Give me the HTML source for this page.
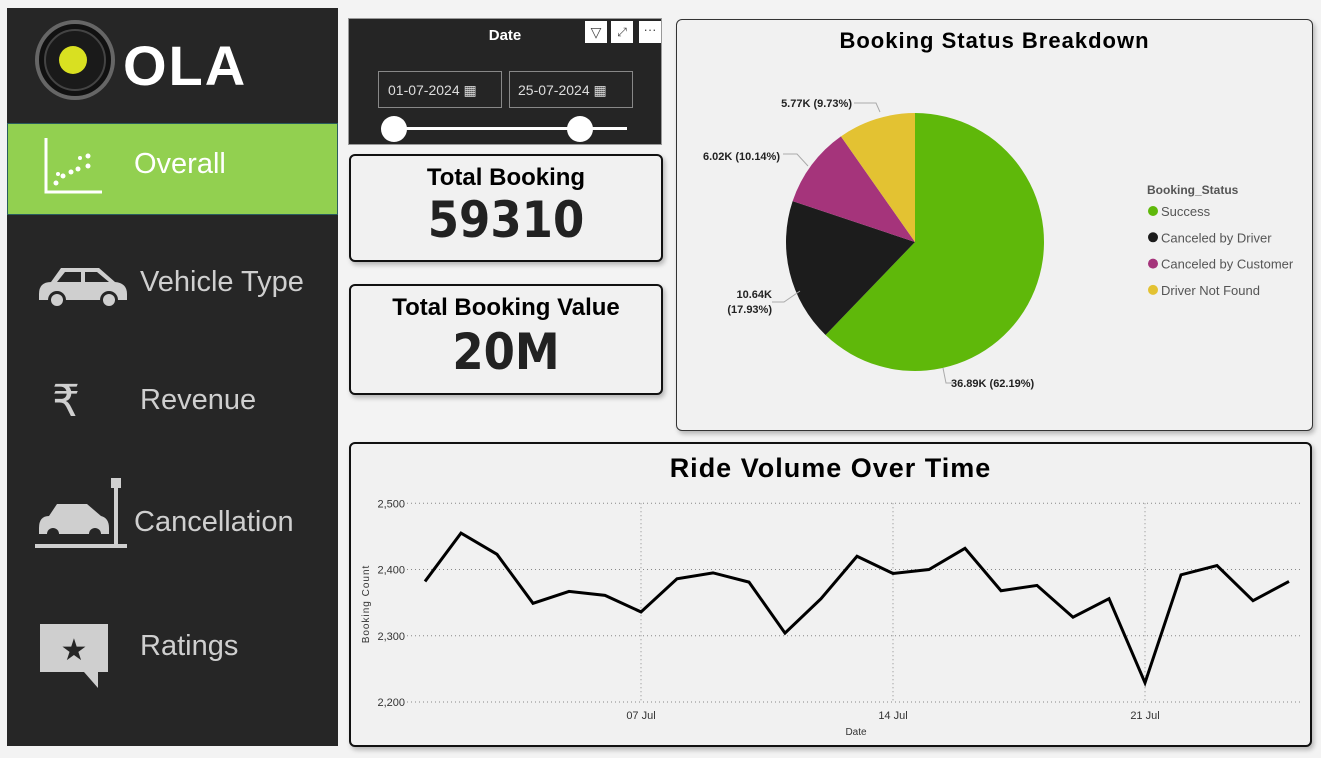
<!DOCTYPE html>
<html><head><meta charset="utf-8"><style>
body{margin:0;width:1321px;height:758px;background:#f3f3f3;position:relative;overflow:hidden;font-family:"Liberation Sans",sans-serif}
.abs{position:absolute}
.card{position:absolute;background:#f1f1f1;border:2.5px solid #111;border-radius:6px;box-sizing:border-box;box-shadow:2px 3px 5px rgba(0,0,0,.25)}
.nav{position:absolute;left:7px;width:331px;color:#cfcfcf;font-size:29px}
</style></head><body>
<div class="abs" style="left:7px;top:8px;width:331px;height:738px;background:#262626"></div>
<svg class="abs" style="left:30px;top:20px" width="260" height="80">
<circle cx="45" cy="40" r="38" fill="#111" stroke="#666" stroke-width="4"/>
<circle cx="45" cy="40" r="30" fill="#1a1a1a" stroke="#444" stroke-width="2"/>
<circle cx="43" cy="40" r="14" fill="#d9e021"/>
<text x="93" y="65" font-size="56" font-weight="bold" fill="#fff" font-family="Liberation Sans" letter-spacing="2">OLA</text>
</svg>
<div class="nav" style="top:123px;height:92px;background:#92d050;border:1px solid #2a5d5d;box-sizing:border-box;color:#fff">
<svg class="abs" style="left:36px;top:12px" width="60" height="60"><path d="M2 2V56H58" stroke="#fff" stroke-width="3" fill="none"/><g fill="#fff"><circle cx="12" cy="47" r="2.5"/><circle cx="19" cy="40" r="2.5"/><circle cx="27" cy="36" r="2.5"/><circle cx="34" cy="33" r="2.5"/><circle cx="44" cy="30" r="2.5"/><circle cx="44" cy="20" r="2.5"/><circle cx="14" cy="38" r="2"/><circle cx="36" cy="22" r="2"/></g></svg>
<span class="abs" style="left:126px;top:24px">Overall</span></div>
<div class="nav" style="top:262px;height:50px">
<svg class="abs" style="left:30px;top:2px" width="92" height="46"><path d="M2 30 Q2 18 14 18 L24 4 H62 L78 18 Q90 19 90 30 V36 H2Z" fill="#cfcfcf"/><circle cx="20" cy="36" r="9" fill="#262626"/><circle cx="20" cy="36" r="6" fill="#cfcfcf"/><circle cx="72" cy="36" r="9" fill="#262626"/><circle cx="72" cy="36" r="6" fill="#cfcfcf"/><path d="M28 8H44V18H20Z M48 8H60L72 18H48Z" fill="#262626"/></svg>
<span class="abs" style="left:133px;top:4px">Vehicle Type</span></div>
<div class="nav" style="top:378px;height:50px">
<span class="abs" style="left:45px;top:-2px;font-size:44px">₹</span>
<span class="abs" style="left:133px;top:6px">Revenue</span></div>
<div class="nav" style="top:472px;height:80px">
<svg class="abs" style="left:28px;top:0" width="95" height="80"><rect x="76" y="6" width="10" height="10" fill="#cfcfcf"/><rect x="79" y="16" width="4" height="58" fill="#cfcfcf"/><path d="M4 56 Q4 44 14 44 L22 32 H52 L66 44 Q74 46 74 56 V62 H4Z" fill="#cfcfcf"/><circle cx="18" cy="62" r="6" fill="#262626"/><circle cx="60" cy="62" r="6" fill="#262626"/><rect x="0" y="72" width="92" height="4" fill="#cfcfcf"/></svg>
<span class="abs" style="left:127px;top:34px">Cancellation</span></div>
<div class="nav" style="top:620px;height:70px">
<svg class="abs" style="left:31px;top:2px" width="72" height="66"><path d="M2 2H70V50H60V66L46 50H2Z" fill="#cfcfcf"/><text x="36" y="38" text-anchor="middle" font-size="30" fill="#262626">★</text></svg>
<span class="abs" style="left:133px;top:10px">Ratings</span></div>

<div class="abs" style="left:348px;top:18px;width:314px;height:127px;background:#252525;border:1px solid #999;box-sizing:border-box">
<div class="abs" style="left:0;right:0;top:8px;text-align:center;color:#fff;font-weight:bold;font-size:15px">Date</div>
<div class="abs" style="left:236px;top:2px;width:22px;height:22px;background:#fff;color:#444;font-size:14px;text-align:center;line-height:22px">▽</div>
<div class="abs" style="left:262px;top:2px;width:22px;height:22px;background:#fff;color:#444;font-size:12px;text-align:center;line-height:22px">⤢</div>
<div class="abs" style="left:290px;top:2px;width:22px;height:22px;background:#fff;color:#444;font-size:13px;text-align:center;line-height:18px">···</div>
<div class="abs" style="left:29px;top:52px;width:124px;height:37px;border:1px solid #888;color:#ddd;font-size:14px;line-height:37px;padding-left:9px;box-sizing:border-box">01-07-2024 ▦</div>
<div class="abs" style="left:160px;top:52px;width:124px;height:37px;border:1px solid #888;color:#ddd;font-size:14px;line-height:37px;padding-left:8px;box-sizing:border-box">25-07-2024 ▦</div>
<div class="abs" style="left:45px;top:108px;width:233px;height:3px;background:#fff"></div>
<div class="abs" style="left:32px;top:97px;width:26px;height:26px;border-radius:50%;background:#fff"></div>
<div class="abs" style="left:218px;top:97px;width:26px;height:26px;border-radius:50%;background:#fff"></div>
</div>

<div class="card" style="left:349px;top:154px;width:314px;height:108px;text-align:center">
<div style="font-weight:bold;font-size:24px;margin-top:8px">Total Booking</div>
<div style="font-weight:bold;font-size:50px;line-height:56px;font-family:'DejaVu Sans Condensed','Liberation Sans',sans-serif;color:#222">59310</div></div>
<div class="card" style="left:349px;top:284px;width:314px;height:111px;text-align:center">
<div style="font-weight:bold;font-size:24px;margin-top:8px">Total Booking Value</div>
<div style="font-weight:bold;font-size:50px;line-height:60px;font-family:'DejaVu Sans Condensed','Liberation Sans',sans-serif;color:#222">20M</div></div>

<div class="card" style="left:676px;top:19px;width:637px;height:412px;border-width:1px;border-color:#333">
<div class="abs" style="left:0;right:0;top:8px;text-align:center;font-weight:bold;font-size:22px;letter-spacing:1px">Booking Status Breakdown</div></div>
<svg class="abs" id="pie" style="left:676px;top:19px" width="637" height="412"></svg>

<div class="card" style="left:349px;top:442px;width:963px;height:305px">
<div class="abs" style="left:0;right:0;top:9px;text-align:center;font-weight:bold;font-size:27px;letter-spacing:1px">Ride Volume Over Time</div></div>
<svg class="abs" id="line" style="left:349px;top:442px" width="963" height="305"></svg>

<script>
const statuses=["Success","Canceled by Driver","Canceled by Customer","Driver Not Found"];
const statusPct=[62.19,17.93,10.14,9.73];
const statusLabels=["36.89K (62.19%)","10.64K\n(17.93%)","6.02K (10.14%)","5.77K (9.73%)"];
const statusColors=["#5fb80a","#1c1c1c","#a5347b","#e3c232"];
const days=[1,2,3,4,5,6,7,8,9,10,11,12,13,14,15,16,17,18,19,20,21,22,23,24,25];
const bookings=[2382,2455,2423,2349,2367,2361,2336,2386,2395,2381,2304,2356,2420,2394,2400,2432,2368,2376,2328,2356,2229,2392,2406,2353,2382];
const yTicks=[2200,2300,2400,2500];
const xTickDays=[7,14,21];
const xTickLabels=["07 Jul","14 Jul","21 Jul"];
const NS="http://www.w3.org/2000/svg";
function mk(p,t,a){const e=document.createElementNS(NS,t);for(const k in a)e.setAttribute(k,a[k]);p.appendChild(e);return e;}
// label layout (leader polylines + text anchors), relative to pie svg
const labelLayout=[
 {pts:"267,349 270,364 280,364",tx:260,ty:368,anchor:"start"},
 {pts:"124,272 108,283 96,283",tx:96,ty:287,anchor:"end"},
 {pts:"132,147 121,135 107,135",tx:104,ty:141,anchor:"end"},
 {pts:"204,93 200,84 178,84",tx:176,ty:88,anchor:"end"}
];
const pie=document.getElementById('pie');
const cx=239,cy=223,r=129;
let tot=statusPct.reduce((a,b)=>a+b,0),acc=0;
statusPct.forEach((v,i)=>{
 const a0=acc/tot*2*Math.PI;acc+=v;const a1=acc/tot*2*Math.PI;
 const p=(a)=>[cx+r*Math.sin(a),cy-r*Math.cos(a)];
 const [x0,y0]=p(a0),[x1,y1]=p(a1);
 const s=mk(pie,'path',{d:`M${cx},${cy}L${x0},${y0}A${r},${r} 0 ${a1-a0>Math.PI?1:0} 1 ${x1},${y1}Z`,fill:statusColors[i]});
 
 
 const L=labelLayout[i];
 mk(pie,'polyline',{points:L.pts,fill:'none',stroke:'#aaa'});
 const lines=statusLabels[i].split('\n');
 lines.forEach((txt,j)=>{
  const t=mk(pie,'text',{x:L.tx+(i==0?15:0),y:L.ty+j*15-(lines.length-1)*8,'text-anchor':L.anchor,'font-size':11,'font-weight':'bold',fill:'#222'});
  t.textContent=txt;
  
  
 });
});
const lt=mk(pie,'text',{x:471,y:175,'font-size':12,'font-weight':'bold',fill:'#555'});lt.textContent="Booking_Status";


statuses.forEach((s,i)=>{
 const g=mk(pie,'g',{});
 
 
 mk(g,'circle',{cx:477,cy:192+i*26.3,r:5,fill:statusColors[i]});
 const t=mk(g,'text',{x:485,y:197+i*26.3,'font-size':13,fill:'#555'});t.textContent=s;
});
// line chart
const ln=document.getElementById('line');
const X=d=>76+(d-1)*36, Y=v=>260-(v-2200)*(198.7/300);
yTicks.forEach(v=>{
 mk(ln,'line',{x1:58,x2:952,y1:Y(v),y2:Y(v),stroke:'#888','stroke-dasharray':'1,3'});
 const t=mk(ln,'text',{x:56,y:Y(v)+4,'text-anchor':'end','font-size':11,fill:'#333'});t.textContent=v.toLocaleString('en-US');
 
 
});
xTickDays.forEach((d,i)=>{
 mk(ln,'line',{x1:X(d),x2:X(d),y1:Y(2500),y2:Y(2200),stroke:'#888','stroke-dasharray':'1,3'});
 const t=mk(ln,'text',{x:X(d),y:Y(2200)+17,'text-anchor':'middle','font-size':11,fill:'#333'});t.textContent=xTickLabels[i];
 
 
});
const pl=mk(ln,'polyline',{points:days.map((d,i)=>X(d)+','+Y(bookings[i])).join(' '),fill:'none',stroke:'#000','stroke-width':3,'stroke-linejoin':'miter'});


const xt=mk(ln,'text',{x:507,y:293,'text-anchor':'middle','font-size':10,fill:'#333'});xt.textContent="Date";


const yt=mk(ln,'text',{x:0,y:0,transform:'translate(20,162) rotate(-90)','text-anchor':'middle','font-size':10,fill:'#333','letter-spacing':'1'});yt.textContent="Booking Count";


</script>
</body></html>
